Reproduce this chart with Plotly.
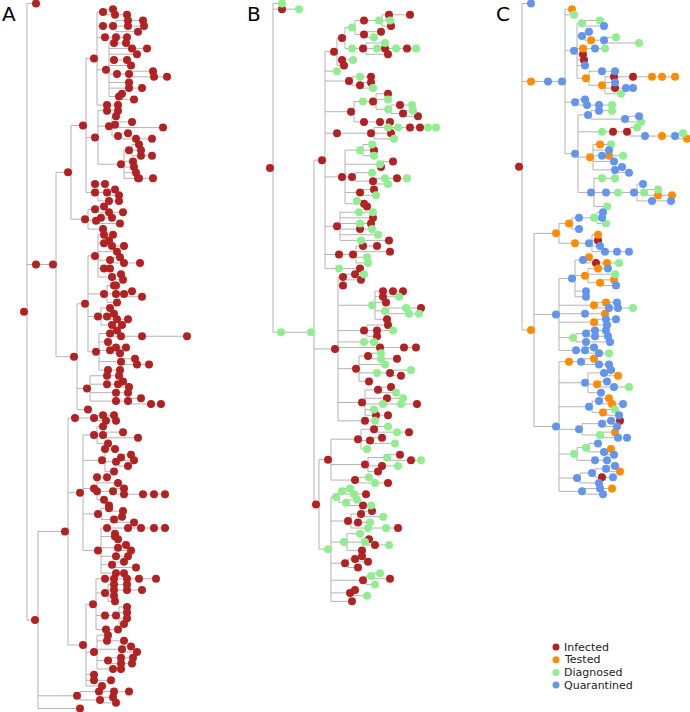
import plotly.graph_objects as go

# ---------------- data ----------------
STATES = ["I", "T", "D", "Q"]
STATE_LABELS = ["Infected", "Tested", "Diagnosed", "Quarantined"]
STATE_COLORS = ["#b22222", "#ff8c00", "#90ee90", "#6495ed"]
PANEL_LABELS = ["A", "B", "C"]

# Transmission trees in Newick form: label = state letter + event time (days*5 from index case)
# ---- panel A ----
A_N1 = ("((I89,(I103)I91)I79,(((I119)I104,(I120)I104,I114)I89)I79,((I103)I92)I81,"
        "((I102)I90,(I123)I108,I113,(I103)I90,I107,((I129,(I143)I130)I105)I93,I105,(I118)I105,(I98,I110)I95)I82,"
        "(I94)I83)I70")
A_M1 = ("((I94)I83,(I92,(I108,I139)I91,(I104,(I128)I112)I94)I85,"
        "((I115,I117,(I128)I117)I105,I109,I110,I112,((I129)I115)I114)I97)I71")
A_M2 = "((I81)I71,(I91,I95)I83,(I95)I85)I71"
A_P2 = "((I80,(I99)I85)I71,((I88)I77,I96)I72,I79)I61"
A_Q1A = "((I89)I80,(I85,(I100)I88)I80,I93,(I96,(I116)I100)I86,(I86)I80,(I97,I99)I88)I71"
A_Q1B = "((I92)I90,((I108,I118)I100)I92,I93)I80"
A_Q1C = "(I86,(I90,(I104)I93)I83,(I98)I88)I74"
A_Q1Z = "((I93,((I163)I118)I97)I86,I84,((I102)I92,I96)I86,(I111,(I125)I113)I97,(I96)I84)I72"
A_QM1 = "((I95)I83,((I99,I105)I94)I83,(I104)I92,((I117,(I137)I127)I104)I92)I63"
A_X = "(((I90)I79,(I92)I82)I70)I51"
A_ZA = "(I79,(I99,I114)I79,I84)I70"
A_ZB = "((I91)I81,((I107,I110)I97,I104)I92,I90)I78"
A_ZC = "((I83)I73,I94,((I100,(((I141)I130)I119)I100)I89)I73,I80)I70"
A_ZD = "((I85,I99)I85,(I98,I110)I90)I74"
A_ZE = "(((((I141)I130)I117)I104)I83,(I91,I94)I91,(I102,I107)I94,(I104)I92,(I100,I112)I88,(I100)I92)I74"
A_YA = ("(((((I132)I115)I103)I90)I81,((I103)I90,((I118)I103)I90,I90,I91)I81,"
        "((I103,I103,I103,I100)I92)I81,(I94)I82)I69")
A_YB = "(I84,(I100)I83,(I107,I113)I98,((I109)I97,(I108)I97)I84,(I97)I89)I70"
A_C2 = "(((I105)I90)I75,(I89,I92)I76)I53"

A_P = "((" + A_N1 + "," + A_M1 + "," + A_M2 + ")I59," + A_P2 + ")I44"
A_Q = "((" + ",".join([A_Q1A, A_Q1B, A_Q1C, A_Q1Z]) + ")I61," + A_QM1 + ",I64)I50"
A_Z = "(" + ",".join([A_ZA, A_ZB, A_ZC, A_ZD, A_ZE]) + ")I56"
A_Y = "(" + A_YA + "," + A_YB + ",I70,(I87)I70,I78)I59"
A_CC = "((" + A_X + "," + A_Z + "," + A_Y + ")I41," + A_C2 + ",I56)I11"
TREE_A = "(I12,((" + A_P + "," + A_Q + ")I29)I12," + A_CC + ")I0"

# ---- panel B ----
B_A = ("((((((I140)I119,D120,I121)D109)I94,(I111,D104)I94)D82,"
       "((D115,((((D146)I137)D126)I115)D107,I118)I93)D82)I72,(D83)I72,I74)I64")
B_C = "((I101)D90,(I101,D103)I90)I79"
B_D = "(((I118,D118,((D142)I130,(D143,I148)I133)D118)I103)D93,((I120)I110)I94)I81"
B_E = "(((((((D166)D158)I150)I140)D128)D118,I121,D124)I101)I67"
B_F = "((D102,I104,D104)D90,(I123,I111)D110,(D102,(((D137)I127)D115,D118)I103)I82,(I104,D106)I90,(D87,I97)I94)I72"
B_G = "((D103)D89,I103,(I101)D90,(D102)I90,D108,(I119)D91)I67"
B_H = "(((I107)I93,I120,D97,D98)I83)I69"
B_I = "(I90)D69"
B_2 = ("(((D94)I85,I91)I73,I73,"
       "(((I133)I123)I113,(D129)I113,I116,((I151)D136,(D149)D139)D115,I117)D102,"
       "(I118,(D123)I107,I107)I94,(D104)D94,((I146)I134)I110,"
       "((D111,(I127)D111)I98,D115,((D141,I131)I120)D107,I99)I86,"
       "((I121,D126)I108,(D133)I117,((I147)D131)D113,D104,(I118)I106)I92,(D105)I95)I65")
B_3X = ("(((D118,(I139)D127)I104,(I112,D125)I100,D97)I88,((I130,(D151)I141)D117,(D128)I112,I108)I95,"
        "(D99,(I118)D105)I85)I58")
B_3Z = ("(((D80,(I96)D84)D72,(D87,(D101)I93)D76)D66,((I102,D113)I91,(D100)I88,((I128)D116)D98)I78,"
        "(D90,(I99,(D119)I105)D95,I92)D74,((I92,I98)I85,I88)I75,((D110,I120)D101,D105)I93,(I85,D97)I80,I82)D58")
B_1 = "(" + ",".join([B_A, "D67", B_C, B_D, B_E, B_F, B_G, B_H, B_I]) + ")I52"
TREE_B = "(D12,(D29)I12,((" + B_1 + "," + B_2 + ",(" + B_3X + "," + B_3Z + ")I46)D41)D11)I0"

# ---- panel C ----
C_A = ("((D81,Q85)D63,(Q70,((D97,D120)Q85)T72)Q63,((D86)Q76)T64,I64,I65,Q66,"
       "((Q96)Q83,(((((T156)T143)T133)I114)I95,Q96,((Q114)Q107)I96,D102)T83)T67)Q55")
C_B = "(Q66,((D93)Q80)Q68)Q56"
C_C = ("(((D93)Q80,(Q120,D122)Q106)Q69,(((D118,(((D164,T168)Q156)T143)Q126)I108)I94)D83,"
       "((D92)T81,Q90,((D104)T90)Q83,Q95,(Q103,Q110)Q96)T71,"
       "((D96)D83,(((Q124,(D139,(T153)T139)D125,(Q152)Q133)Q115)D99)Q87,D88)Q72)Q56")
C_1 = "(T53,D55," + C_A + "," + C_B + "," + C_C + ")Q43"
C_D = "((((Q84,Q83,D87)D75)Q60,Q60)T50,((T79,I79,Q81,((Q110)Q98)Q86)Q70)T56)T37"
C_E = ("(((T70,((D100)T88)I77)Q64,((Q89)T79,D96,(T95,Q97)T81)T66,Q67,Q67)Q53,"
       "((Q98)T87,((D114)Q99)Q90)T75,(T86)Q66,((Q97)Q87,Q88)T75,"
       "(((Q87)Q76,(Q89)Q76)Q67,(Q91)Q67)D54,((Q75,(D90)Q80)Q66)Q57)Q37")
C_G = ("(((T75,(Q90)Q80)Q62)T50,((Q92,T99)Q85,(Q88,(D110)Q95)T78,Q82)Q66,"
       "((T90,(Q104)T93)Q80,(D96,Q100)T84)Q70,(((I101)Q92,Q98)Q83,(T96,(Q108)Q99)D81)Q60,"
       "((Q79,(T92,Q95)Q85)D67,(Q88)Q76)D55,(((Q96,T101)Q87,(Q94)I83)Q73,Q80)Q58,((T93)Q81,Q84)Q63)Q37")
TREE_C = "(Q12,((" + C_1 + ")Q29)T12,(" + C_D + "," + C_E + "," + C_G + ")T12)I0"

TREES = [TREE_A, TREE_B, TREE_C]

# ---------------- layout / styling ----------------
W, H = 690, 712
X_RANGES = [[-24, 206], [-40, 190], [-59, 171]]
Y_RANGE = [125.62, -0.62]
VLINE_OFFSET = 3
LINE_COLOR = "#b3b3b3"
DOT_SIZE = 8
FONT = "DejaVu Sans"


def parse_tree(text):
    s = "".join(text.split())
    pos = 0

    def node():
        nonlocal pos
        kids = []
        if s[pos] == "(":
            pos += 1
            kids.append(node())
            while s[pos] == ",":
                pos += 1
                kids.append(node())
            pos += 1
        start = pos
        while pos < len(s) and s[pos] not in ",()":
            pos += 1
        lab = s[start:pos]
        return {"state": lab[0], "t": float(lab[1:]), "kids": kids}

    return node()


def layout_tree(root):
    nodes = []
    counter = [0]

    def rec(n):
        if not n["kids"]:
            n["y"] = counter[0]
            counter[0] += 1
        else:
            for k in n["kids"]:
                rec(k)
            n["y"] = (n["kids"][0]["y"] + n["kids"][-1]["y"]) / 2.0
        nodes.append(n)

    rec(root)
    return nodes


fig = go.Figure()

for p, text in enumerate(TREES):
    root = parse_tree(text)
    nodes = layout_tree(root)
    xa = "x" if p == 0 else "x%d" % (p + 1)
    lx, ly = [], []
    for n in nodes:
        kids = n["kids"]
        if not kids:
            continue
        xv = n["t"] + VLINE_OFFSET
        ys = [k["y"] for k in kids]
        if max(ys) > min(ys):
            lx += [xv, xv, None]
            ly += [min(ys), max(ys), None]
        for k in kids:
            x0 = xv if k["y"] != n["y"] else n["t"]
            lx += [x0, k["t"], None]
            ly += [k["y"], k["y"], None]
    fig.add_trace(go.Scatter(x=lx, y=ly, mode="lines", xaxis=xa, yaxis="y",
                             line=dict(color=LINE_COLOR, width=1), hoverinfo="skip",
                             showlegend=False))
    for s, col in zip(STATES, STATE_COLORS):
        sel = [n for n in nodes if n["state"] == s]
        if not sel:
            continue
        fig.add_trace(go.Scatter(x=[n["t"] for n in sel], y=[n["y"] for n in sel],
                                 mode="markers", xaxis=xa, yaxis="y",
                                 marker=dict(color=col, size=DOT_SIZE, line=dict(width=0)),
                                 showlegend=False))

layout = dict(
    width=W, height=H, margin=dict(l=0, r=0, t=0, b=0),
    paper_bgcolor="white", plot_bgcolor="white",
    yaxis=dict(range=Y_RANGE, domain=[0, 1], visible=False),
    showlegend=False,
    font=dict(family=FONT),
)
for p in range(3):
    key = "xaxis" if p == 0 else "xaxis%d" % (p + 1)
    layout[key] = dict(range=X_RANGES[p], domain=[p / 3, (p + 1) / 3], visible=False, anchor="y")
fig.update_layout(**layout)

# panel letters
LABEL_X = [0, 245, 494]
for lab, px in zip(PANEL_LABELS, LABEL_X):
    fig.add_annotation(text=lab, x=px / W, y=1.0, xref="paper", yref="paper",
                       xanchor="left", yanchor="top", showarrow=False,
                       font=dict(size=20, color="black", family=FONT))

# legend (manual)
LEG_X, LEG_Y0, LEG_DY = 556, 647, 12.7
for i, (lab, col) in enumerate(zip(STATE_LABELS, STATE_COLORS)):
    cy = LEG_Y0 + i * LEG_DY
    fig.add_shape(type="circle", xref="paper", yref="paper",
                  x0=(LEG_X - 3.5) / W, x1=(LEG_X + 3.5) / W,
                  y0=1 - (cy + 3.5) / H, y1=1 - (cy - 3.5) / H,
                  fillcolor=col, line=dict(width=0))
    fig.add_annotation(text=lab, x=(LEG_X + 6) / W, y=1 - cy / H, xref="paper", yref="paper",
                       xanchor="left", yanchor="middle", showarrow=False,
                       font=dict(size=11, color="#222222", family=FONT))

fig.write_html("out.html", config={"displayModeBar": False, "staticPlot": True},
               post_script="document.body.style.margin='0';document.body.style.padding='0';")
